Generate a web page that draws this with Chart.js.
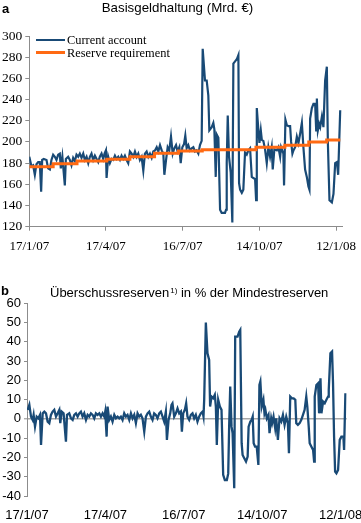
<!DOCTYPE html>
<html>
<head>
<meta charset="utf-8">
<script src="https://cdn.jsdelivr.net/npm/chart.js@4.4.1/dist/chart.umd.min.js"></script>
<style>
  html, body { margin: 0; padding: 0; background: #fff; }
  #wrap { position: relative; width: 361px; height: 523px; overflow: hidden; }
  canvas { position: absolute; left: 0; }
  .txt { position: absolute; white-space: nowrap; color: #000; }
  .sans { font-family: "Liberation Sans", Arial, sans-serif; }
  .serif { font-family: "Liberation Serif", "Times New Roman", serif; }
  .panel { font-weight: bold; font-size: 13px; line-height: 13px; }
  .sup { font-size: 8px; vertical-align: 4px; margin-left: 1px; }
  .swatch { position: absolute; }
</style>
</head>
<body>
<div id="wrap">
  <canvas id="cTop" width="361" height="260" style="top:0"></canvas>
  <canvas id="cBot" width="361" height="243" style="top:280px"></canvas>

  <div class="txt sans panel" style="left:2px;top:2px">a</div>
  <div class="txt sans" style="left:0;width:355px;text-align:center;top:1px;font-size:13.3px;line-height:13.3px">Basisgeldhaltung (Mrd. €)</div>

  <div class="swatch" style="left:36px;top:39px;width:29px;height:2.4px;background:#194a76"></div>
  <div class="swatch" style="left:36px;top:51.3px;width:29px;height:3px;background:#ff6a13"></div>
  <div class="txt serif" style="left:67px;top:34px;font-size:12.4px;line-height:12.4px">Current account</div>
  <div class="txt serif" style="left:67px;top:47px;font-size:12.4px;line-height:12.4px">Reserve requirement</div>

  <div class="txt sans panel" style="left:1px;top:284px">b</div>
  <div class="txt sans" style="left:50px;top:284px;font-size:13px;line-height:13px">Überschussreserven<span class="sup">1)</span> in % der Mindestreserven</div>
</div>
<script>
// days counted from 17/1/07
const tickDays = [0, 90, 180, 270, 360];
const tickLabels = ["17/1/07", "17/4/07", "16/7/07", "14/10/07", "12/1/08"];

// panel a: current account holdings (Mrd. €)
const caDays = [
  0, 2.5, 4.5, 6.5, 8.4, 10.4, 12.3, 13.9, 15.1, 17,
  20.2, 22.1, 24.1, 26, 28, 30, 31.9, 33.9, 35.8, 37,
  38.8, 41.7, 42.9, 45.6, 47.6, 49.5, 51.5, 53.5, 55.4, 57.4,
  59.3, 61.3, 63.3, 65.2, 67.2, 69.2, 71.1, 73, 75, 77,
  79, 80.9, 82.8, 84.8, 86.8, 88.3, 89.9, 90.7, 92.6, 94.6,
  96.6, 98.5, 100.5, 102.4, 104.4, 106.4, 108.3, 110.3, 112.2, 114.2,
  116.1, 118.1, 120.1, 122, 124, 126, 127.9, 129.8, 131.8, 133.8,
  135.7, 137.7, 139.7, 141.6, 143.6, 145.5, 147.5, 149.5, 151.4, 153.4,
  155.4, 157.3, 158.5, 160.5, 162.4, 164.3, 166.3, 168.3, 170.2, 172.2,
  174.1, 176.1, 177.7, 179.6, 181.6, 183.1, 184.7, 186.6, 188.6, 190.6,
  192.5, 194.5, 196.4, 198.4, 200.3, 202.3,
  203.5, 206.2, 208.2, 210.1, 211.3, 214.1, 216, 217.2, 218.8, 220,
  221.9, 223.9, 225.8, 227.8, 229.7, 230.9, 231.7, 232.9, 234.4, 236.4,
  238.3, 239.5, 241.5, 243.5, 245.4, 246.2, 247.4, 249.4, 251.2, 253.2,
  255.2, 257.1, 259.1, 261.1, 263, 265, 266.2, 267, 268.9, 270.1,
  271.7, 272.9, 274.7, 276.7, 278.7, 280.6, 282.6, 284.5, 285.7, 287.6,
  290.5, 292.4, 294.4, 295.5, 298.2, 299, 300.6, 302.2, 304.1, 306.1,
  307.3, 308.8, 310, 312, 314, 315.9, 317.9, 319.9, 321.7, 323.7,
  325.7, 327.6, 328.8, 329.6, 331.6, 333.5, 335.5, 336.7, 337.5, 338.7,
  340.2, 341.4, 343.4, 345.2, 347.2, 349.2, 350.4, 352.3, 355.1, 357,
  359, 361, 362.5, 364.9
];
const caValues = [
  186, 177, 178, 169, 179, 181, 181, 153, 183, 184,
  183, 175, 174, 183, 188, 186, 183, 188, 189, 175,
  186, 159, 184, 186, 183, 178, 185, 182, 188, 186,
  189, 185, 189, 183, 186, 180, 186, 189, 183, 187,
  184, 181, 186, 189, 184, 189, 192, 166, 186, 180,
  184, 183, 187, 184, 186, 183, 187, 184, 187, 183,
  180, 191, 189, 186, 191, 186, 189, 183, 186, 173,
  189, 191, 186, 189, 185, 191, 192, 195, 191, 197,
  192, 189, 169, 183, 195, 192, 205, 189, 194, 197,
  191, 195, 180, 195, 198, 206, 194, 197, 192, 194,
  195, 191, 192, 189, 197, 201,
  288, 258, 258, 244, 211, 214, 218, 212, 167, 207,
  204, 136, 133, 133, 133, 136, 180, 225, 186, 171,
  124, 274, 276, 278, 282, 161, 155, 152, 155, 190,
  188, 192, 194, 167, 166, 165, 145, 232, 211, 199,
  211, 202, 201, 193, 180, 195, 186, 195, 174, 193,
  192, 195, 186, 195, 189, 159, 221, 216, 215, 215,
  200, 189, 192, 195, 205, 199, 208, 218, 195, 174,
  167, 158, 155, 222, 232, 236, 236, 211, 241, 211,
  217, 214, 224, 214, 258, 271, 200, 145, 143, 151,
  180, 181, 169, 230
];

// panel a: reserve requirement, one value per maintenance step
const rrDays = [0, 28, 56, 91, 118, 147, 175, 203, 266, 300, 328, 349, 365];
const rrValues = [176.6, 179.5, 182, 183.6, 186, 189.3, 191.5, 192.7, 195, 196.8, 200, 201.8, 201.8];

// panel b: excess reserves in % of required reserves
const exDays = [
  0.8, 2.7, 4.6, 6.5, 7.6, 9.2, 11.1, 13, 14.9, 16.1,
  18, 19.9, 21.8, 23.7, 25.6, 27.5, 29.4, 31.3, 33.3, 35.2,
  37.1, 38.2, 39.8, 42, 44.7, 45.9, 48.5, 50.5, 52.4, 54.3,
  56.2, 58.1, 60, 61.9, 63.8, 65.7, 67.7, 69.6, 71.5, 73.4,
  75.3, 77.2, 79.1, 81, 83, 84.9, 86.8, 88.7, 89.8, 91.4,
  92.5, 94.4, 96.3, 98.2, 100.2, 102.1, 104, 105.9, 107.8, 109.7,
  111.6, 113.5, 115.4, 117.4, 119.3, 121.2, 123.1, 125, 126.9, 128.8,
  130.7, 132.6, 134.6, 136.5, 138.4, 140.3, 142.2, 144.1, 146, 147.9,
  149.8, 151.8, 153.7, 155.6, 157.5, 159.4, 160.6, 162.5, 164.4, 165.9,
  167, 169, 170.9, 172.8, 174.7, 176.6, 177.8, 179.3, 181.2, 182.7,
  184.2, 186.2, 188.1, 190, 191.9, 193.8, 195.7, 197.6, 199.5, 201.5,
  202.6,
  203.4, 205.3, 207.2, 209.1, 210.2, 211.8, 213.7, 215.6, 216.8, 217.9,
  219.5, 221.4, 223.3, 225.2, 227.1, 229.4, 231, 232.1, 233.3, 234.8,
  236, 237.9, 239, 241.7, 243.6, 244.8, 246.4, 247.5, 249.4, 251.4,
  253.3, 254.4, 256.4, 257.9, 259.1, 260.2, 261.8, 263.7, 265.6, 266.8,
  267.9, 269.5, 271.4, 272.6, 273.7, 275.3, 277.2, 278.4, 280.3, 281.4,
  283, 284.9, 286.1, 288, 289.9, 291.9, 293.8, 295.7, 297.6, 299.5,
  300.7, 302.2, 304.1, 306.1, 308, 309.1, 311, 313, 314.9, 316.8,
  318.7, 320.6, 321.8, 323.4, 324.5, 326.5, 328.4, 329.6, 330.3, 332.2,
  334.2, 335.3, 336.9, 338, 339.9, 341.8, 343.7, 345.6, 346.4, 348.3,
  350.2, 351.3, 352.5, 353.7, 355.2, 357.1, 359, 360.9, 363.2, 364,
  365.5
];
const exValues = [
  4.7, 7.3, 1.2, -0.5, 2.1, -4, 1.2, 0.3, 2.1, -13.5,
  2.9, 3.8, 2.9, -1.4, -2.2, 2.1, 3.8, 4.7, 1.2, 2.9,
  4.7, -2.2, 3.8, 2.9, -11.8, 2.1, 2.9, 0.3, -0.5, 2.1,
  2.9, 1.2, 2.9, 3.8, 1.2, 2.9, -0.5, 2.1, 1.2, 2.9,
  2.1, 0.3, 2.9, 2.1, 2.9, 1.2, 2.9, 1.2, 3.8, -9.2,
  6.4, -0.5, 1.2, -1.4, 2.1, 0.3, 1.2, 0.3, 1.2, -0.5,
  2.9, 1.2, 2.1, -0.5, 2.9, 0.3, 2.1, -2.2, 2.9, 1.2,
  2.1, 0.3, -6.6, 1.2, 2.9, 3.8, 1.2, -0.5, 2.9, 2.1,
  0.3, 2.9, 3.8, 1.2, -1.4, 3.8, -10.9, -0.5, 2.9, 7.3,
  8.1, 1.2, 2.9, 5.5, 2.9, 3.8, -6.6, 2.9, 4.7, 8.1,
  1.2, -0.5, 2.1, 2.9, 0.3, 2.1, -1.4, 1.2, 2.9, 3.8,
  1.2,
  9.9, 50, 34, 30.6, 6.4, 11.6, 10.7, 12.5, 6.4, -13.5,
  9.9, 6.4, 4.7, -29, -31.7, -31.7, -28.4, -3.1, 16.8, -4,
  -7.4, -36, 42.7, 42.7, 45.3, 46.2, -12.6, -18.7, -20.4, -22.1,
  -19.5, -4, -1.4, -0.5, 1.2, -12.6, -14.4, -14.4, -23.9, 17.6,
  19.4, 6.4, 9.9, 2.9, 4.7, 0.3, 2.1, -7.4, 0.3, -2.2,
  1.2, -4.8, 0.3, -10.9, 0.3, -1.4, 2.1, -3.1, 1.2, -2.2,
  -17.8, 11.6, 10.7, 10.7, 9.9, -2.2, -3.1, -2.2, -0.5, 2.1,
  4.7, 11.6, 6.4, -4, -12.6, -14.4, -16.1, -22.1, 11.6, 17.6,
  18.5, 2.9, 21.1, 2.9, 9, 8.1, 9.9, 11.6, 15.1, 34.1,
  35, 18.7, -9, -27.3, -28.2, -26.5, -10.9, -9.2, -9.2, -16.1,
  13.3
];

const BLUE = "#194a76";
const ORANGE = "#ff6a13";
const GRAY = "#8c8c8c";
const SERIF = "'Liberation Serif', 'Times New Roman', serif";
const SANS = "'Liberation Sans', Arial, sans-serif";

function pts(xs, ys) { return xs.map((x, i) => ({ x: x, y: ys[i] })); }

function fixTicks(s) { s.ticks = tickDays.map(v => ({ value: v })); }

new Chart(document.getElementById("cTop"), {
  type: "line",
  data: {
    datasets: [
      { label: "Current account", data: pts(caDays, caValues), borderColor: BLUE,
        borderWidth: 2.2, pointRadius: 0, tension: 0, order: 2 },
      { label: "Reserve requirement", data: pts(rrDays, rrValues), borderColor: ORANGE,
        borderWidth: 3, pointRadius: 0, stepped: true, order: 1 }
    ]
  },
  options: {
    responsive: false, animation: false, devicePixelRatio: 1,
    layout: { padding: { left: 0, right: 19, top: 36, bottom: 0 } },
    plugins: { legend: { display: false }, tooltip: { enabled: false } },
    scales: {
      x: {
        type: "linear", min: 0, max: 367,
        afterBuildTicks: fixTicks,
        afterFit: s => { s.height = 33.3; s.paddingLeft = 0; s.paddingRight = 0; },
        ticks: { callback: (v, i) => tickLabels[i], autoSkip: false, maxRotation: 0,
          padding: 8, color: "#000", font: { family: SERIF, size: 13 } },
        grid: { drawOnChartArea: false, tickLength: 4, tickColor: GRAY },
        border: { color: GRAY, width: 1 }
      },
      y: {
        min: 120, max: 300,
        afterFit: s => { s.width = 29.3; s.paddingTop = 0; s.paddingBottom = 0; },
        ticks: { stepSize: 20, padding: 3, color: "#000", font: { family: SERIF, size: 13.5 } },
        grid: { drawOnChartArea: false, tickLength: 4, tickColor: GRAY },
        border: { color: GRAY, width: 1 }
      }
    }
  }
});

new Chart(document.getElementById("cBot"), {
  type: "line",
  data: {
    datasets: [
      { label: "Überschussreserven", data: pts(exDays, exValues), borderColor: BLUE,
        borderWidth: 2.3, pointRadius: 0, tension: 0 }
    ]
  },
  options: {
    responsive: false, animation: false, devicePixelRatio: 1,
    layout: { padding: { left: 0, right: 14.3, top: 23.3, bottom: 0 } },
    plugins: { legend: { display: false }, tooltip: { enabled: false } },
    scales: {
      x: {
        type: "linear", min: 0, max: 367,
        afterBuildTicks: fixTicks,
        afterFit: s => { s.height = 27; s.paddingLeft = 0; s.paddingRight = 0; },
        ticks: { callback: (v, i) => tickLabels[i], autoSkip: false, maxRotation: 0,
          padding: 12, color: "#000", font: { family: SANS, size: 13 } },
        grid: { display: false, drawTicks: false },
        border: { display: false }
      },
      y: {
        min: -40, max: 60,
        afterFit: s => { s.width = 27; s.paddingTop = 0; s.paddingBottom = 0; },
        ticks: { stepSize: 10, padding: 3, color: "#000", font: { family: SANS, size: 13 } },
        grid: {
          color: c => (c.tick && c.tick.value === 0 ? "#a8a8a8" : "rgba(0,0,0,0)"),
          lineWidth: c => (c.tick && c.tick.value === 0 ? 1.6 : 1),
          tickLength: 3, tickColor: GRAY, tickWidth: 1
        },
        border: { color: GRAY, width: 1 }
      }
    }
  }
});
</script>
</body>
</html>
